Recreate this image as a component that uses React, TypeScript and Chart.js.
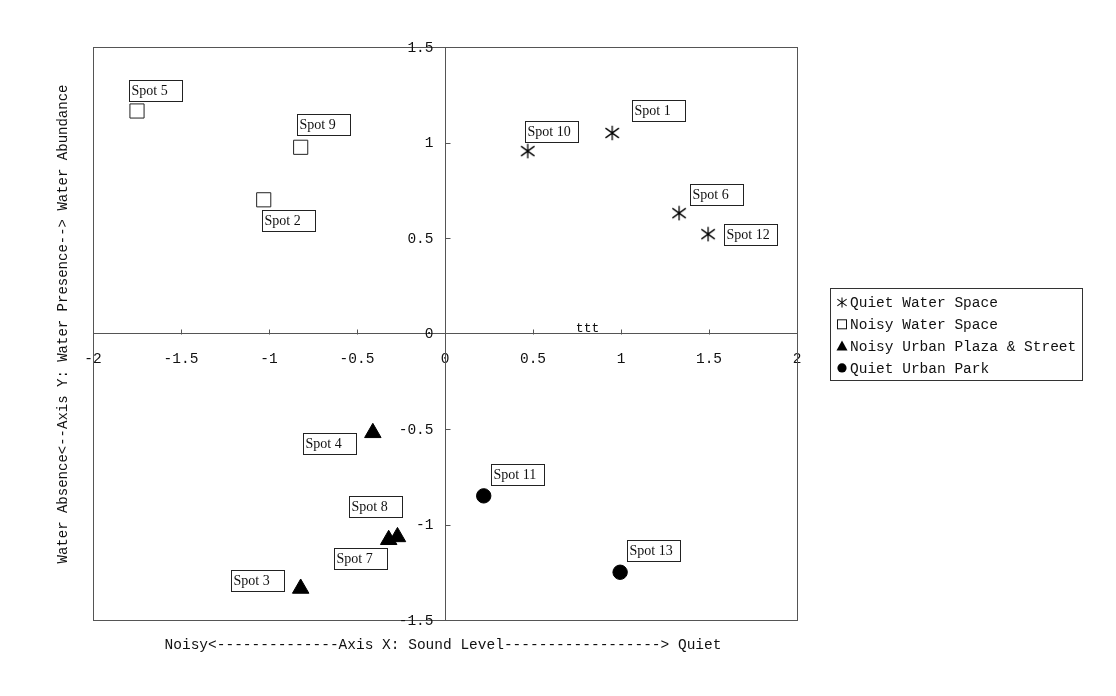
import React, { useEffect, useRef } from 'react';
import { Chart, registerables } from 'chart.js';

Chart.register(...registerables);

// ---------- data ----------
const seriesNames = [
  'Quiet Water Space',
  'Noisy Water Space',
  'Noisy Urban Plaza & Street',
  'Quiet Urban Park',
];

const quietWaterSpots = ['Spot 1', 'Spot 6', 'Spot 10', 'Spot 12'];
const quietWaterX = [0.95, 1.33, 0.47, 1.495];
const quietWaterY = [1.05, 0.63, 0.955, 0.52];

const noisyWaterSpots = ['Spot 2', 'Spot 5', 'Spot 9'];
const noisyWaterX = [-1.03, -1.75, -0.82];
const noisyWaterY = [0.7, 1.165, 0.975];

const noisyUrbanSpots = ['Spot 3', 'Spot 4', 'Spot 7', 'Spot 8'];
const noisyUrbanX = [-0.82, -0.41, -0.32, -0.27];
const noisyUrbanY = [-1.335, -0.52, -1.08, -1.065];

const quietParkSpots = ['Spot 11', 'Spot 13'];
const quietParkX = [0.22, 0.995];
const quietParkY = [-0.85, -1.25];

const xTickLabels = ['-2', '-1.5', '-1', '-0.5', '0', '0.5', '1', '1.5', '2'];
const yTickLabels = ['-1.5', '-1', '-0.5', '0', '0.5', '1', '1.5'];

const xAxisTitle = 'Noisy<--------------Axis X: Sound Level------------------> Quiet';
const yAxisTitle = 'Water Absence<--Axis Y: Water Presence--> Water Abundance';
const strayText = 'ttt';
const strayTextX = 0.81;

// ---------- styling ----------
const INK = '#111111';
const AXIS = '#555555';
const MONO = '"Liberation Mono", "DejaVu Sans Mono", monospace';
const SERIF = '"Liberation Serif", "DejaVu Serif", serif';

// label box offsets (px, top-left of box relative to the point)
const labelBoxOffsets: Record<string, [number, number]> = {
  'Spot 1': [20, -33],
  'Spot 2': [-2, 10],
  'Spot 3': [-70, -18],
  'Spot 4': [-70, 0],
  'Spot 5': [-8, -31],
  'Spot 6': [11, -29],
  'Spot 7': [-55, 8],
  'Spot 8': [-48, -41],
  'Spot 9': [-4, -33],
  'Spot 10': [-3, -30],
  'Spot 11': [7, -32],
  'Spot 12': [16, -10],
  'Spot 13': [7, -32],
};

function pts(xs: number[], ys: number[], names: string[]) {
  return xs.map((x, i) => ({ x, y: ys[i], name: names[i] }));
}

function drawAsterisk(ctx: CanvasRenderingContext2D, cx: number, cy: number, r: number) {
  ctx.beginPath();
  ctx.moveTo(cx, cy - r);
  ctx.lineTo(cx, cy + r);
  const dx = r * 0.93;
  const dy = r * 0.68;
  ctx.moveTo(cx - dx, cy - dy);
  ctx.lineTo(cx + dx, cy + dy);
  ctx.moveTo(cx + dx, cy - dy);
  ctx.lineTo(cx - dx, cy + dy);
  ctx.stroke();
}

function makeAsteriskImage(): HTMLCanvasElement {
  const c = document.createElement('canvas');
  c.width = 16;
  c.height = 16;
  const g = c.getContext('2d')!;
  g.strokeStyle = '#000';
  g.lineWidth = 1.3;
  drawAsterisk(g, 8, 8, 7.2);
  return c;
}

const decorPlugin = {
  id: 'decor',
  beforeDatasetsDraw(chart: any) {
    const { ctx, chartArea } = chart;
    const xs = chart.scales.x;
    const ys = chart.scales.y;
    ctx.save();
    // frame
    ctx.strokeStyle = AXIS;
    ctx.lineWidth = 1;
    ctx.strokeRect(
      Math.round(chartArea.left) + 0.5,
      Math.round(chartArea.top) + 0.5,
      Math.round(chartArea.right - chartArea.left),
      Math.round(chartArea.bottom - chartArea.top)
    );
    // inward tick marks
    const y0 = Math.round(ys.getPixelForValue(0)) + 0.5;
    const x0 = Math.round(xs.getPixelForValue(0)) + 0.5;
    ctx.beginPath();
    xs.ticks.forEach((t: any) => {
      if (t.value === 0) return;
      const px = Math.round(xs.getPixelForValue(t.value)) + 0.5;
      ctx.moveTo(px, y0);
      ctx.lineTo(px, y0 - 5);
    });
    ys.ticks.forEach((t: any) => {
      if (t.value === 0) return;
      const py = Math.round(ys.getPixelForValue(t.value)) + 0.5;
      ctx.moveTo(x0, py);
      ctx.lineTo(x0 + 5, py);
    });
    ctx.stroke();

    // y tick labels, right-aligned left of the vertical axis
    ctx.font = `14.5px ${MONO}`;
    ctx.fillStyle = INK;
    ctx.textAlign = 'right';
    ctx.textBaseline = 'middle';
    ys.ticks.forEach((t: any, i: number) => {
      ctx.fillText(yTickLabels[i], x0 - 12, ys.getPixelForValue(t.value) + 1);
    });
    ctx.restore();
  },
  afterDatasetsDraw(chart: any) {
    const { ctx } = chart;
    const xs = chart.scales.x;
    const ys = chart.scales.y;
    ctx.save();
    // point label boxes
    ctx.font = `14px ${SERIF}`;
    ctx.textBaseline = 'middle';
    ctx.textAlign = 'left';
    chart.data.datasets.forEach((ds: any) => {
      ds.data.forEach((p: any) => {
        const off = labelBoxOffsets[p.name] || [6, -30];
        const px = xs.getPixelForValue(p.x);
        const py = ys.getPixelForValue(p.y);
        const bx = Math.round(px + off[0]) + 0.5;
        const by = Math.round(py + off[1]) + 0.5;
        ctx.fillStyle = '#ffffff';
        ctx.fillRect(bx, by, 53, 21);
        ctx.strokeStyle = '#222';
        ctx.lineWidth = 1;
        ctx.strokeRect(bx, by, 53, 21);
        ctx.fillStyle = INK;
        ctx.fillText(p.name, bx + 2, by + 11);
      });
    });
    // stray text near the x axis
    ctx.font = `13px ${MONO}`;
    ctx.textAlign = 'center';
    ctx.textBaseline = 'bottom';
    ctx.fillStyle = INK;
    ctx.fillText(strayText, xs.getPixelForValue(strayTextX), ys.getPixelForValue(0) + 2);

    // axis titles
    ctx.font = `14.5px ${MONO}`;
    ctx.textAlign = 'center';
    ctx.textBaseline = 'middle';
    ctx.fillText(xAxisTitle, 443, 645);
    ctx.save();
    ctx.translate(63, 324);
    ctx.rotate(-Math.PI / 2);
    ctx.font = `14px ${MONO}`;
    ctx.fillText(yAxisTitle, 0, 0);
    ctx.restore();

    // legend
    const lx = 830.5;
    const ly = 288.5;
    ctx.strokeStyle = '#333';
    ctx.lineWidth = 1;
    ctx.strokeRect(lx, ly, 252, 92);
    ctx.font = `14.5px ${MONO}`;
    ctx.textAlign = 'left';
    ctx.textBaseline = 'middle';
    chart.data.datasets.forEach((ds: any, i: number) => {
      const cy = 302.5 + i * 21.8;
      const cx = 842;
      ctx.fillStyle = '#000';
      ctx.strokeStyle = '#111';
      if (i === 0) {
        ctx.lineWidth = 1.1;
        drawAsterisk(ctx, cx, cy, 5);
      } else if (i === 1) {
        ctx.lineWidth = 1;
        ctx.strokeRect(cx - 4.5, cy - 4.5, 9, 9);
      } else if (i === 2) {
        ctx.beginPath();
        ctx.moveTo(cx, cy - 5.5);
        ctx.lineTo(cx + 5.5, cy + 4.5);
        ctx.lineTo(cx - 5.5, cy + 4.5);
        ctx.closePath();
        ctx.fill();
      } else {
        ctx.beginPath();
        ctx.arc(cx, cy, 4.6, 0, Math.PI * 2);
        ctx.fill();
      }
      ctx.fillStyle = INK;
      ctx.fillText(ds.label, 850, cy + 1);
    });
    ctx.restore();
  },
};

export default function App() {
  const ref = useRef<HTMLCanvasElement | null>(null);

  useEffect(() => {
    if (!ref.current) return;
    const asterisk = makeAsteriskImage();
    const chart = new Chart(ref.current, {
      type: 'scatter',
      data: {
        datasets: [
          {
            label: seriesNames[0],
            data: pts(quietWaterX, quietWaterY, quietWaterSpots),
            pointStyle: asterisk as any,
            pointRadius: 8,
            borderColor: '#000',
            backgroundColor: '#000',
          },
          {
            label: seriesNames[1],
            data: pts(noisyWaterX, noisyWaterY, noisyWaterSpots),
            pointStyle: 'rect',
            pointRadius: 10,
            borderWidth: 1,
            borderColor: '#222',
            backgroundColor: '#ffffff',
          },
          {
            label: seriesNames[2],
            data: pts(noisyUrbanX, noisyUrbanY, noisyUrbanSpots),
            pointStyle: 'triangle',
            pointRadius: 9.5,
            borderWidth: 1,
            borderColor: '#000',
            backgroundColor: '#000',
          },
          {
            label: seriesNames[3],
            data: pts(quietParkX, quietParkY, quietParkSpots),
            pointStyle: 'circle',
            pointRadius: 7.2,
            borderWidth: 1,
            borderColor: '#000',
            backgroundColor: '#000',
          },
        ],
      },
      options: {
        animation: false,
        responsive: false,
        devicePixelRatio: 1,
        layout: { padding: { left: 93, top: 47, right: 319, bottom: 76 } },
        plugins: {
          legend: { display: false },
          tooltip: { enabled: false },
        },
        scales: {
          x: {
            type: 'linear',
            min: -2,
            max: 2,
            position: { y: 0 } as any,
            grid: { display: true, drawOnChartArea: false, drawTicks: false },
            border: { display: true, color: AXIS, width: 1 },
            ticks: {
              stepSize: 0.5,
              autoSkip: false,
              maxRotation: 0,
              padding: 17,
              color: INK,
              font: { family: MONO, size: 14.5 },
              callback: (_v: any, i: number) => xTickLabels[i],
            },
          },
          y: {
            type: 'linear',
            min: -1.5,
            max: 1.5,
            position: { x: 0 } as any,
            grid: { display: true, drawOnChartArea: false, drawTicks: false },
            border: { display: true, color: AXIS, width: 1 },
            ticks: {
              display: false,
              stepSize: 0.5,
              autoSkip: false,
            },
          },
        },
      },
      plugins: [decorPlugin],
    });
    return () => chart.destroy();
  }, []);

  return (
    <div style={{ position: 'absolute', left: 0, top: 0, width: 1116, height: 696, background: '#fff' }}>
      <canvas ref={ref} width={1116} height={696} />
    </div>
  );
}
